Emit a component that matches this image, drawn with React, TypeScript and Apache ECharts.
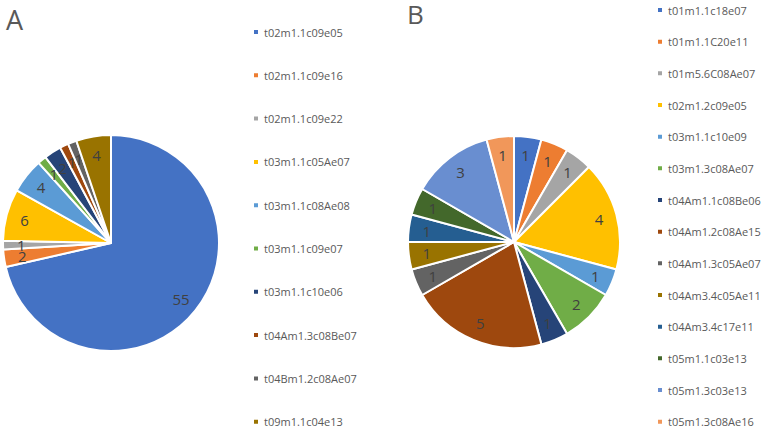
import React, { useEffect, useRef } from "react";
import * as echarts from "echarts";

const namesA = [
  "t02m1.1c09e05",
  "t02m1.1c09e16",
  "t02m1.1c09e22",
  "t03m1.1c05Ae07",
  "t03m1.1c08Ae08",
  "t03m1.1c09e07",
  "t03m1.1c10e06",
  "t04Am1.3c08Be07",
  "t04Bm1.2c08Ae07",
  "t09m1.1c04e13",
];
const valuesA = [55, 2, 1, 6, 4, 1, 2, 1, 1, 4];

const namesB = [
  "t01m1.1c18e07",
  "t01m1.1C20e11",
  "t01m5.6C08Ae07",
  "t02m1.2c09e05",
  "t03m1.1c10e09",
  "t03m1.3c08Ae07",
  "t04Am1.1c08Be06",
  "t04Am1.2c08Ae15",
  "t04Am1.3c05Ae07",
  "t04Am3.4c05Ae11",
  "t04Am3.4c17e11",
  "t05m1.1c03e13",
  "t05m1.3c03e13",
  "t05m1.3c08Ae16",
];
const valuesB = [1, 1, 1, 4, 1, 2, 1, 5, 1, 1, 1, 1, 3, 1];

const colorsA = [
  "#4472C4", "#ED7D31", "#A5A5A5", "#FFC000", "#5B9BD5",
  "#70AD47", "#264478", "#9E480E", "#636363", "#997300",
];
const colorsB = [
  "#4472C4", "#ED7D31", "#A5A5A5", "#FFC000", "#5B9BD5",
  "#70AD47", "#264478", "#9E480E", "#636363", "#997300",
  "#255E91", "#43682B", "#698ED0", "#F1975A",
];

const FONT = "Open Sans";
const DIGIT_HALF = 4.3;

function pieSeries(names: string[], values: number[], colors: string[], center: number[], r: number) {
  const visible = {
    type: "pie",
    center,
    radius: [0, r],
    startAngle: 90,
    clockwise: true,
    silent: true,
    label: { show: false },
    labelLine: { show: false },
    itemStyle: { borderColor: "#ffffff", borderWidth: 2 },
    emphasis: { disabled: true },
    data: names.map((n, i) => ({ name: n, value: values[i], itemStyle: { color: colors[i] } })),
  };
  // transparent helper pie whose outside labels sit inside the visible pie
  const labels = {
    type: "pie",
    center,
    radius: [0, r * 0.83],
    startAngle: 90,
    clockwise: true,
    silent: true,
    avoidLabelOverlap: false,
    minShowLabelAngle: 0,
    label: {
      show: true,
      position: "outside",
      alignTo: "none",
      formatter: "{c}",
      color: "#404040",
      fontSize: 15,
      fontFamily: FONT,
    },
    labelLayout: { hideOverlap: false },
    labelLine: { show: false, length: 0, length2: 0 },
    itemStyle: { color: "rgba(0,0,0,0)", borderWidth: 0 },
    emphasis: { disabled: true },
    data: names.map((n, i) => ({
      name: n,
      value: values[i],
      label: { distanceToLabelLine: -String(values[i]).length * DIGIT_HALF },
    })),
  };
  return [visible, labels];
}

export default function App() {
  const ref = useRef<HTMLDivElement>(null);
  useEffect(() => {
    if (!ref.current) return;
    const chart = echarts.init(ref.current, undefined, { renderer: "svg" });
    const legendCommon = {
      orient: "vertical",
      icon: "rect",
      itemWidth: 6,
      itemHeight: 6,
      padding: 0,
      selectedMode: false,
      textStyle: { color: "#595959", fontSize: 11, fontFamily: FONT, lineHeight: 14 },
    };
    chart.setOption({
      animation: false,
      backgroundColor: "#ffffff",
      title: [
        { text: "A", left: 6, top: 6, padding: 0, textStyle: { color: "#595959", fontSize: 27, lineHeight: 27, fontWeight: "normal", fontFamily: FONT } },
        { text: "B", left: 407, top: 1, padding: 0, textStyle: { color: "#595959", fontSize: 26, lineHeight: 26, fontWeight: "normal", fontFamily: FONT } },
      ],
      legend: [
        { ...legendCommon, data: namesA, left: 252, top: 25, height: 407, itemGap: 29.3 },
        { ...legendCommon, data: namesB, left: 656, top: 3, height: 429, itemGap: 17.67 },
      ],
      series: [
        ...pieSeries(namesA, valuesA, colorsA, [111, 243], 108),
        ...pieSeries(namesB, valuesB, colorsB, [514, 242], 106),
      ],
    });
    return () => chart.dispose();
  }, []);
  return (
    <div
      ref={ref}
      style={{ position: "fixed", left: 0, top: 0, width: 767, height: 432, background: "#fff" }}
    />
  );
}
